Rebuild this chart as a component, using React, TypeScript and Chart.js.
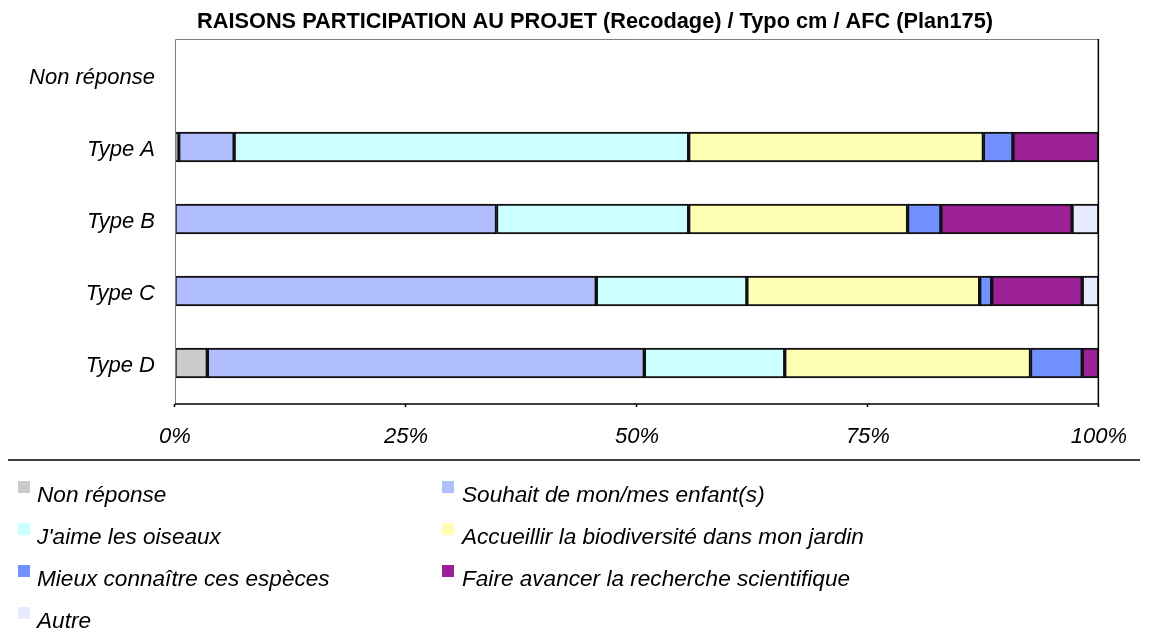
import React, { useEffect, useRef } from "react";
import { Chart, registerables } from "chart.js";

Chart.register(...registerables);

const categories = ["Non réponse", "Type A", "Type B", "Type C", "Type D"];
const nonReponse = [0, 0.4, 0, 0, 3.5];
const souhait = [0, 6.0, 34.8, 45.6, 47.3];
const oiseaux = [0, 49.2, 20.8, 16.3, 15.2];
const biodiversite = [0, 31.9, 23.7, 25.2, 26.6];
const especes = [0, 3.2, 3.6, 1.3, 5.6];
const recherche = [0, 9.3, 14.2, 9.8, 1.8];
const autre = [0, 0, 2.9, 1.8, 0];
const xTicks = [0, 25, 50, 75, 100];

const seriesNames = [
  "Non réponse",
  "Souhait de mon/mes enfant(s)",
  "J'aime les oiseaux",
  "Accueillir la biodiversité dans mon jardin",
  "Mieux connaître ces espèces",
  "Faire avancer la recherche scientifique",
  "Autre",
];
const seriesColors = ["#CCCCCC", "#B0BEFF", "#CCFFFF", "#FFFFB3", "#7290FF", "#9C2196", "#E6EAFF"];
const seriesValues = [nonReponse, souhait, oiseaux, biodiversite, especes, recherche, autre];

const TITLE = "RAISONS PARTICIPATION AU PROJET (Recodage) / Typo cm / AFC (Plan175)";
const FONT = "'Liberation Sans', Arial, sans-serif";

const framePlugin = {
  id: "frame",
  afterDraw(chart: any) {
    const ctx = chart.ctx;
    const a = chart.chartArea;
    const x = chart.scales.x;
    const axisY = a.bottom + 5;
    ctx.save();
    // title
    ctx.fillStyle = "#000";
    ctx.font = `bold 21.75px ${FONT}`;
    ctx.textAlign = "center";
    ctx.textBaseline = "middle";
    ctx.fillText(TITLE, 595, 22);
    // frame
    ctx.lineWidth = 1;
    ctx.strokeStyle = "#808080";
    ctx.beginPath();
    ctx.moveTo(a.left + 0.5, axisY);
    ctx.lineTo(a.left + 0.5, a.top + 0.5);
    ctx.lineTo(a.right, a.top + 0.5);
    ctx.stroke();
    ctx.strokeStyle = "#000";
    ctx.lineWidth = 1.5;
    ctx.beginPath();
    ctx.moveTo(a.right - 0.5, a.top);
    ctx.lineTo(a.right - 0.5, axisY + 3);
    ctx.moveTo(a.left, axisY);
    ctx.lineTo(a.right, axisY);
    xTicks.forEach((t) => {
      const px = Math.round(x.getPixelForValue(t)) - 0.5;
      ctx.moveTo(px, axisY);
      ctx.lineTo(px, axisY + 3);
    });
    ctx.stroke();
    // separator
    ctx.beginPath();
    ctx.lineWidth = 1.5;
    ctx.moveTo(8, 460);
    ctx.lineTo(1140, 460);
    ctx.stroke();
    // legend
    ctx.font = `italic 22.6px ${FONT}`;
    ctx.textAlign = "left";
    ctx.textBaseline = "alphabetic";
    seriesNames.forEach((name, i) => {
      const col = i % 2;
      const row = Math.floor(i / 2);
      const bx = col === 0 ? 18 : 442;
      const tx = col === 0 ? 37 : 462;
      const by = 481 + row * 42;
      ctx.fillStyle = seriesColors[i];
      ctx.fillRect(bx, by, 12, 12);
      ctx.fillStyle = "#000";
      ctx.fillText(name, tx, by + 21);
    });
    ctx.restore();
  },
};

export default function App() {
  const ref = useRef<HTMLCanvasElement>(null);
  useEffect(() => {
    if (!ref.current) return;
    const chart = new Chart(ref.current, {
      type: "bar",
      data: {
        labels: categories,
        datasets: seriesNames.map((name, i) => ({
          label: name,
          data: seriesValues[i],
          backgroundColor: seriesColors[i],
          borderColor: "#111111",
          borderWidth: 2,
          borderSkipped: false,
          barThickness: 30,
        })),
      },
      options: {
        indexAxis: "y",
        animation: false,
        responsive: false,
        layout: { padding: { left: 0, right: 53, top: 39, bottom: 171 } },
        plugins: {
          legend: { display: false },
          title: { display: false },
          tooltip: { enabled: false },
        },
        scales: {
          x: {
            stacked: true,
            min: 0,
            max: 100,
            afterBuildTicks: (s: any) => {
              s.ticks = xTicks.map((v) => ({ value: v }));
            },
            afterFit: (s: any) => {
              s.height = 60;
            },
            grid: { display: false, drawTicks: false },
            border: { display: false },
            ticks: {
              padding: 25,
              color: "#000",
              maxRotation: 0,
              font: { family: FONT, size: 22, style: "italic" },
              callback: (v: any) => `${v}%`,
            },
          },
          y: {
            stacked: true,
            afterFit: (s: any) => {
              s.width = 175;
            },
            grid: { display: false, drawTicks: false },
            border: { display: false },
            ticks: {
              padding: 20,
              labelOffset: 3,
              color: "#000",
              font: { family: FONT, size: 22, style: "italic" },
            },
          },
        },
      },
      plugins: [framePlugin],
    });
    return () => chart.destroy();
  }, []);
  return (
    <canvas
      ref={ref}
      width={1152}
      height={630}
      style={{ position: "fixed", left: 0, top: 0, width: 1152, height: 630 }}
    />
  );
}
